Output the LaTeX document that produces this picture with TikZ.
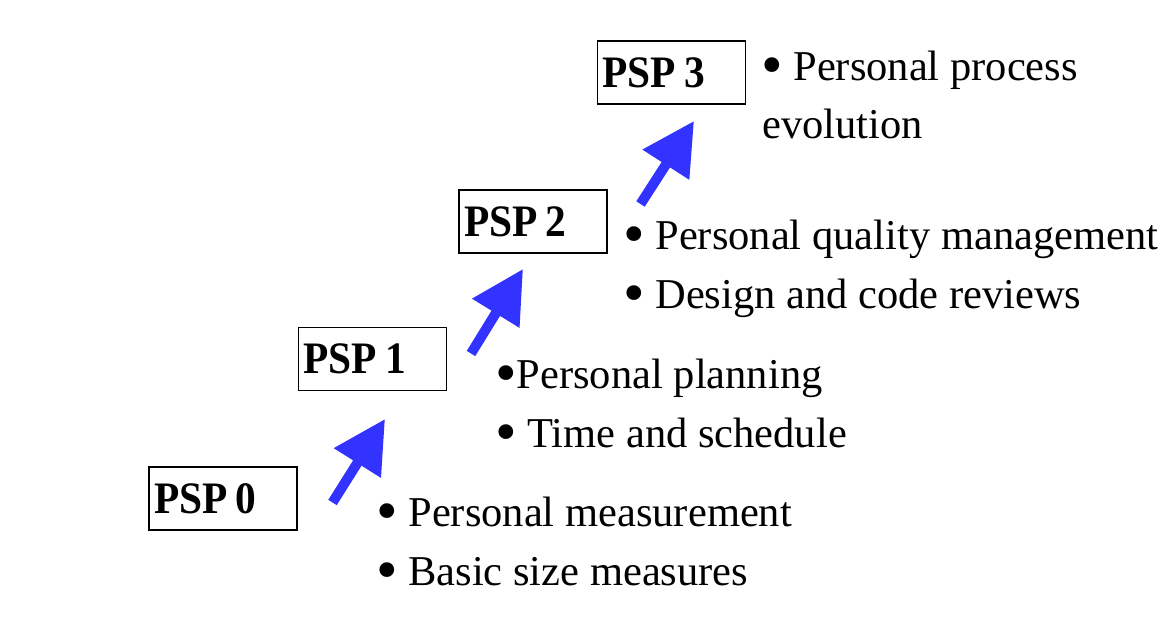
\documentclass[tikz,border=0pt]{standalone}
\usepackage{fontspec}
\setmainfont{Liberation Serif}
\usetikzlibrary{arrows.meta}
\definecolor{arrowblue}{RGB}{51,51,255}
\newcommand\psplabel[1]{\scalebox{0.92}[1]{PSP\hspace{9pt}#1}}
\newcommand\bul{\raisebox{-0.14em}{\scalebox{1.45}{•}}}
\tikzset{
  pspbox/.style={draw=black, line width=1.3pt, minimum width=148pt, minimum height=63pt,
    inner xsep=5pt, inner ysep=0pt, text width=138pt, align=left,
    font=\bfseries\fontsize{45}{45}\selectfont},
  item/.style={anchor=base west, inner sep=0pt, font=\fontsize{42.5}{42.5}\selectfont},
  uparrow/.style={draw=arrowblue, line width=10pt, -{Triangle[length=52pt,width=53pt]}}
}
\begin{document}
\begin{tikzpicture}[x=1pt,y=-1pt]
\useasboundingbox (0,0) rectangle (1161,642);
% boxes
\node[pspbox] (p0) at (223,498.5) {\psplabel{0}};
\node[pspbox] (p1) at (372.5,359) {\psplabel{1}};
\node[pspbox] (p2) at (533,221.5) {\psplabel{2}};
\node[pspbox] (p3) at (671.5,72.5) {\psplabel{3}};
% items
\node[item] (t0a) at (376,526) {\bul{} Personal measurement};
\node[item] (t0b) at (376,585) {\bul{} Basic size measures};
\node[item] (t1a) at (495,388) {\bul{}Personal planning};
\node[item] (t1b) at (495,447) {\bul{} Time and schedule};
\node[item] (t2a) at (623,249) {\bul{} Personal quality management};
\node[item] (t2b) at (623,308) {\bul{} Design and code reviews};
\node[item] (t3a) at (761,80) {\bul{} Personal process};
\node[item] (t3b) at (762,138) {evolution};
% arrows
\coordinate (a1s) at (332.5,502.5);
\coordinate (a1e) at (385,419);
\coordinate (a2s) at (471,353.5);
\coordinate (a2e) at (523,269);
\coordinate (a3s) at (640.5,204);
\coordinate (a3e) at (694,121);
\draw[uparrow] (a1s) -- (a1e);
\draw[uparrow] (a2s) -- (a2e);
\draw[uparrow] (a3s) -- (a3e);
\end{tikzpicture}
\end{document}
